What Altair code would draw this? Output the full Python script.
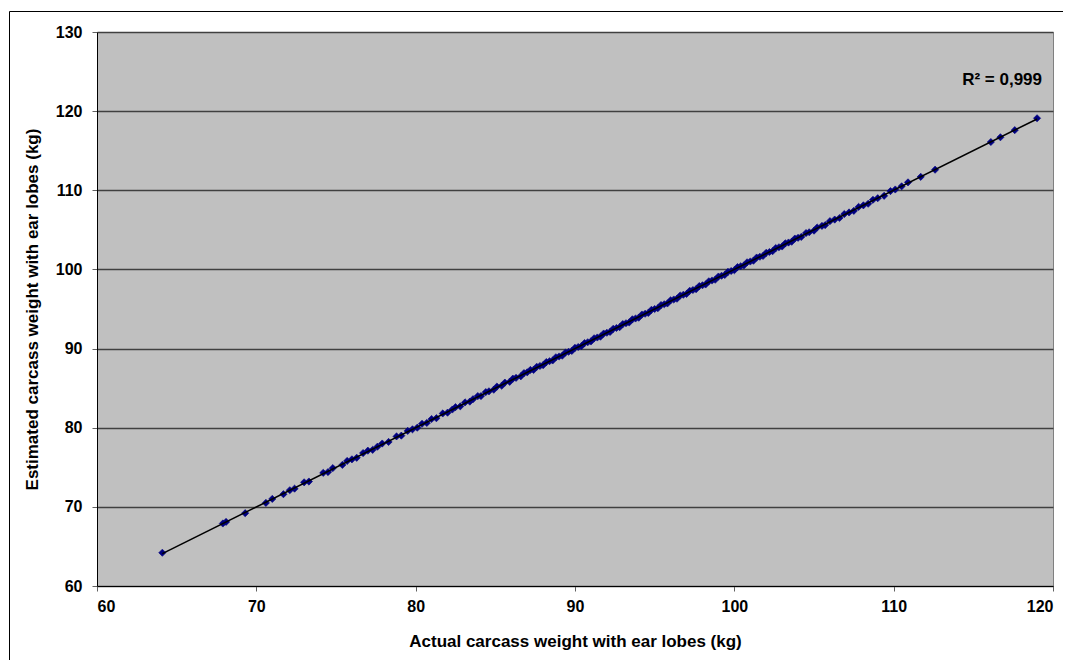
import altair as alt
import pandas as pd

actual = [64.1, 67.9, 68.1, 69.3, 70.6, 71.0, 71.7, 72.1, 72.4, 73.0, 73.3, 74.2, 74.5, 74.8,
          75.4, 75.7, 76.0, 76.3, 76.7, 77.0, 77.3, 77.6, 77.9, 78.3, 78.8, 79.1, 79.5, 79.8,
          80.1, 80.4, 80.7, 81.0, 81.3, 81.7, 82.0, 82.3, 82.5, 82.8, 83.1, 83.4, 83.6, 83.9,
          84.1, 84.4, 84.6, 84.9, 85.1, 85.4, 85.6, 85.9, 86.1, 86.3, 86.6, 86.8, 87.0, 87.2,
          87.4, 87.6, 87.8, 88.0, 88.2, 88.4, 88.6, 88.8, 89.0, 89.2, 89.4, 89.6, 89.8, 90.0,
          90.2, 90.4, 90.6, 90.8, 91.0, 91.2, 91.4, 91.6, 91.8, 92.0, 92.2, 92.4, 92.6, 92.8,
          93.0, 93.2, 93.4, 93.6, 93.8, 94.0, 94.2, 94.4, 94.6, 94.8, 95.0, 95.2, 95.4, 95.6,
          95.8, 96.0, 96.2, 96.4, 96.6, 96.8, 97.0, 97.2, 97.4, 97.6, 97.8, 98.0, 98.2, 98.4,
          98.6, 98.8, 99.0, 99.2, 99.4, 99.6, 99.8, 100.0, 100.2, 100.4, 100.6, 100.8, 101.0,
          101.2, 101.4, 101.6, 101.8, 102.0, 102.2, 102.4, 102.6, 102.8, 103.0, 103.2, 103.4,
          103.6, 103.8, 104.0, 104.2, 104.5, 104.7, 105.0, 105.2, 105.5, 105.7, 106.0, 106.3,
          106.6, 106.9, 107.2, 107.5, 107.8, 108.1, 108.4, 108.7, 109.0, 109.4, 109.8, 110.1,
          110.5, 110.9, 111.7, 112.6, 116.1, 116.7, 117.6, 119.0]

estimated = [64.2, 67.9, 68.1, 69.2, 70.5, 71.0, 71.6, 72.1, 72.3, 73.1, 73.2, 74.3, 74.4, 74.9,
             75.3, 75.8, 76.0, 76.2, 76.8, 77.1, 77.2, 77.6, 78.0, 78.2, 78.9, 79.0, 79.6, 79.8,
             80.0, 80.5, 80.6, 81.1, 81.2, 81.8, 81.9, 82.3, 82.6, 82.7, 83.2, 83.3, 83.6, 84.0,
             84.0, 84.5, 84.6, 84.8, 85.2, 85.3, 85.7, 85.8, 86.2, 86.3, 86.5, 86.9, 87.0, 87.3,
             87.3, 87.7, 87.8, 87.9, 88.3, 88.4, 88.5, 88.9, 89.0, 89.1, 89.5, 89.6, 89.7, 90.1,
             90.2, 90.3, 90.7, 90.8, 90.9, 91.3, 91.4, 91.5, 91.9, 92.0, 92.1, 92.5, 92.6, 92.7,
             93.1, 93.2, 93.3, 93.7, 93.8, 93.9, 94.3, 94.4, 94.5, 94.9, 95.0, 95.1, 95.5, 95.6,
             95.7, 96.1, 96.2, 96.3, 96.7, 96.8, 96.9, 97.3, 97.4, 97.5, 97.9, 98.0, 98.1, 98.5,
             98.6, 98.7, 99.1, 99.2, 99.3, 99.7, 99.8, 99.9, 100.3, 100.4, 100.5, 100.9, 101.0,
             101.1, 101.5, 101.6, 101.7, 102.1, 102.2, 102.3, 102.7, 102.8, 102.9, 103.3, 103.4,
             103.5, 103.9, 104.0, 104.1, 104.6, 104.7, 104.9, 105.3, 105.5, 105.6, 106.1, 106.3,
             106.5, 107.0, 107.2, 107.4, 107.9, 108.1, 108.3, 108.8, 109.0, 109.3, 109.9, 110.1,
             110.5, 111.0, 111.7, 112.6, 116.1, 116.7, 117.6, 119.1]

x_ticks = [60, 70, 80, 90, 100, 110, 120]
y_ticks = [60, 70, 80, 90, 100, 110, 120, 130]
x_title = "Actual carcass weight with  ear lobes (kg)"
y_title = "Estimated carcass weight  with  ear lobes (kg)"
r2_label = "R\u00b2 = 0,999"

df = pd.DataFrame({"actual": actual, "estimated": estimated})

FONT = "Liberation Sans"

xs = alt.Scale(domain=[60, 120], nice=False, zero=False)
ys = alt.Scale(domain=[60, 130], nice=False, zero=False)

base = alt.Chart(df)

points = base.mark_point(shape="diamond", filled=True, size=52, color="#000080", opacity=1,
                         stroke="#000080", strokeWidth=0.6).encode(
    x=alt.X("actual:Q", scale=xs,
            axis=alt.Axis(values=x_ticks, title=x_title, grid=False, labelPadding=7,
                          titlePadding=19)),
    y=alt.Y("estimated:Q", scale=ys,
            axis=alt.Axis(values=y_ticks, title=y_title, grid=True, labelPadding=10,
                          titlePadding=14)),
)

trend = base.transform_regression("actual", "estimated").mark_line(
    color="black", strokeWidth=1.5
).encode(
    x=alt.X("actual:Q", scale=xs),
    y=alt.Y("estimated:Q", scale=ys),
)

one = pd.DataFrame({"k": [0]})
border_left = alt.Chart(one).mark_rule(color="black", strokeWidth=1, clip=False).encode(
    x=alt.value(-87.5), y=alt.value(-20.5), y2=alt.value(900)
)
border_top = alt.Chart(one).mark_rule(color="black", strokeWidth=1, clip=False).encode(
    x=alt.value(-87.5), x2=alt.value(1200), y=alt.value(-20.5)
)

r2 = alt.Chart(pd.DataFrame({"t": [r2_label]})).mark_text(
    align="right", baseline="alphabetic", font=FONT, fontWeight="bold", fontSize=17, color="black"
).encode(text="t:N", x=alt.value(945), y=alt.value(53))

chart = alt.layer(border_left, border_top, points, trend, r2).properties(
    width=956, height=554,
    autosize=alt.AutoSizeParams(type="none"),
    padding={"left": 89, "top": 24, "right": 10, "bottom": 74},
    background="white",
).configure_view(
    fill="#C0C0C0", stroke="#808080", strokeWidth=1
).configure_axis(
    labelFont=FONT, labelFontWeight="bold", labelFontSize=16, labelColor="black",
    titleFont=FONT, titleFontWeight="bold", titleFontSize=17, titleColor="black",
    domainColor="black", domainWidth=1, tickColor="#606060", tickSize=5, tickWidth=1,
    gridColor="#404040", gridWidth=1.3, gridOpacity=1,
)

chart.save("out.html", embed_options={"renderer": "svg", "actions": False})
